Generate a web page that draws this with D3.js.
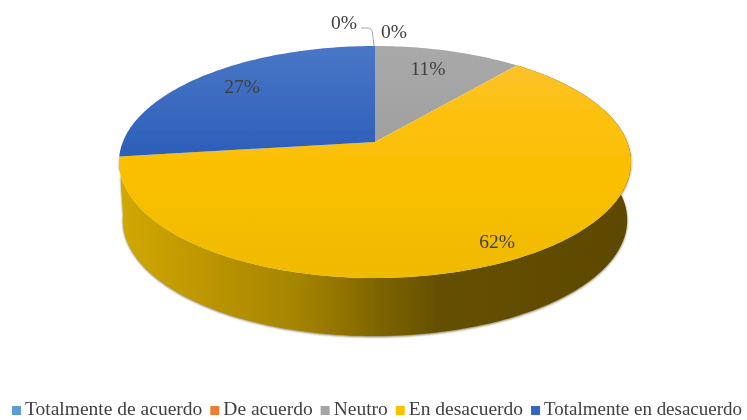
<!DOCTYPE html>
<html>
<head>
<meta charset="utf-8">
<script src="https://cdn.jsdelivr.net/npm/d3@7"></script>
<style>
html,body{margin:0;padding:0;background:#fff}
svg{display:block}
text{font-family:"Liberation Serif","Times New Roman",serif;fill:#404040}
</style>
</head>
<body>
<svg id="chart" width="747" height="420"></svg>
<script>
const categories = ["Totalmente de acuerdo","De acuerdo","Neutro","En desacuerdo","Totalmente en desacuerdo"];
const values = [0,0,11,62,27];
const valueLabels = ["0%","0%","11%","62%","27%"];
const colors = ["#5b9bd5","#ed7d31","#a5a5a5","#ffc000","#3566bd"];

const W = 747, H = 420;
const apex = {x:375, y:142};
const svg = d3.select("#chart");
const defs = svg.append("defs");

// Perspective projection of the unit disc onto the page
const persp = 0.1724, scaleU = 252.2, scaleV = 112.55, depth = 58, baseScale = 0.985;
const xOff = d3.scaleLinear().domain([-1,1]).range([-scaleU,scaleU]);
const yOff = d3.scaleLinear().domain([-1,1]).range([scaleV,-scaleV]);
function project(angle, drop=0, k=1){
  const u = Math.sin(angle), v = Math.cos(angle), w = 1 + persp*v;
  return [apex.x + k*xOff(u)/w, apex.y + yOff(v)/w + drop];
}
function rim(a0,a1,drop=0,k=1){
  const n = Math.max(2, Math.ceil(Math.abs(a1-a0)/0.02));
  return d3.range(n+1).map(i=>project(a0+(a1-a0)*i/n,drop,k));
}
const line = d3.line();
const pie = d3.pie().sort(null).value(d=>d);
const arcs = pie(values);

// gradients
function vGrad(id,stops){
  const g = defs.append("linearGradient").attr("id",id).attr("x1",0).attr("x2",0).attr("y1",0).attr("y2",1);
  stops.forEach(s=>g.append("stop").attr("offset",s[0]).attr("stop-color",s[1]));
}
vGrad("f2",[[0,"#a9a9a9"],[1,"#a0a0a0"]]);
vGrad("f3",[[0,"#fdc22c"],[0.25,"#fdc10c"],[0.6,"#f8bf00"],[1,"#efba00"]]);
vGrad("f4",[[0,"#4a76c6"],[1,"#2c5fb9"]]);
const wall = defs.append("linearGradient").attr("id","wall").attr("gradientUnits","userSpaceOnUse")
  .attr("x1",apex.x-256).attr("x2",apex.x+256).attr("y1",0).attr("y2",0);
[[0,"#d2a800"],[0.35,"#a58400"],[0.5,"#806600"],[0.62,"#655000"],[1,"#5c4900"]]
  .forEach(s=>wall.append("stop").attr("offset",s[0]).attr("stop-color",s[1]));
defs.append("filter").attr("id","soft").attr("x","-5%").attr("y","-5%").attr("width","110%").attr("height","110%")
  .append("feGaussianBlur").attr("stdDeviation",0.6);
defs.append("filter").attr("id","soft2").attr("x","-5%").attr("y","-5%").attr("width","110%").attr("height","110%")
  .append("feGaussianBlur").attr("stdDeviation",1.1);

const root = svg.append("g").attr("filter","url(#soft)");

// side wall of the visible front slice
const front = arcs[3];
const wallPts = rim(front.startAngle,front.endAngle,0).concat(rim(front.endAngle,front.startAngle,depth,baseScale));
root.append("path").attr("d",line(wallPts)+"Z").attr("fill","#5a4a10").attr("opacity",0.75)
  .attr("filter","url(#soft2)").attr("transform","translate(0,1)");
root.append("path").attr("d",line(wallPts)+"Z").attr("fill","url(#wall)");

// top face
root.selectAll("path.slice").data(arcs).join("path").attr("class","slice")
  .filter(d=>d.endAngle>d.startAngle)
  .attr("fill",(d,i)=>`url(#f${d.index})`)
  .attr("d",d=>line([[apex.x,apex.y],...rim(d.startAngle,d.endAngle)])+"Z");

// value labels
const labelPos = [[344,22],[394,31],[428,68],[497,241],[242,86]];
root.selectAll("text.val").data(valueLabels).join("text").attr("class","val")
  .attr("x",(d,i)=>labelPos[i][0]).attr("y",(d,i)=>labelPos[i][1])
  .attr("text-anchor","middle").attr("dominant-baseline","central")
  .attr("font-size",19.5).text(d=>d);

// leader line
root.append("path").attr("fill","none").attr("stroke","#a6a6a6").attr("stroke-width",1)
  .attr("d","M361,28H368Q372,28 372.5,33L374,46");

// legend
const legend = root.append("g");
const legendBase = 415, swatch = 9, gapText = 4, gapItem = 8, lastWidth = 198;
let x = 12;
categories.forEach((c,i)=>{
  legend.append("rect").attr("x",x).attr("y",legendBase-swatch).attr("width",swatch).attr("height",swatch).attr("fill",colors[i]);
  const t = legend.append("text").attr("x",x+swatch+gapText).attr("y",legendBase).attr("font-size",19.5).text(c);
  if(i===categories.length-1) t.attr("textLength",lastWidth).attr("lengthAdjust","spacingAndGlyphs");
  x += swatch+gapText+t.node().getComputedTextLength()+gapItem;
});
</script>
</body>
</html>
